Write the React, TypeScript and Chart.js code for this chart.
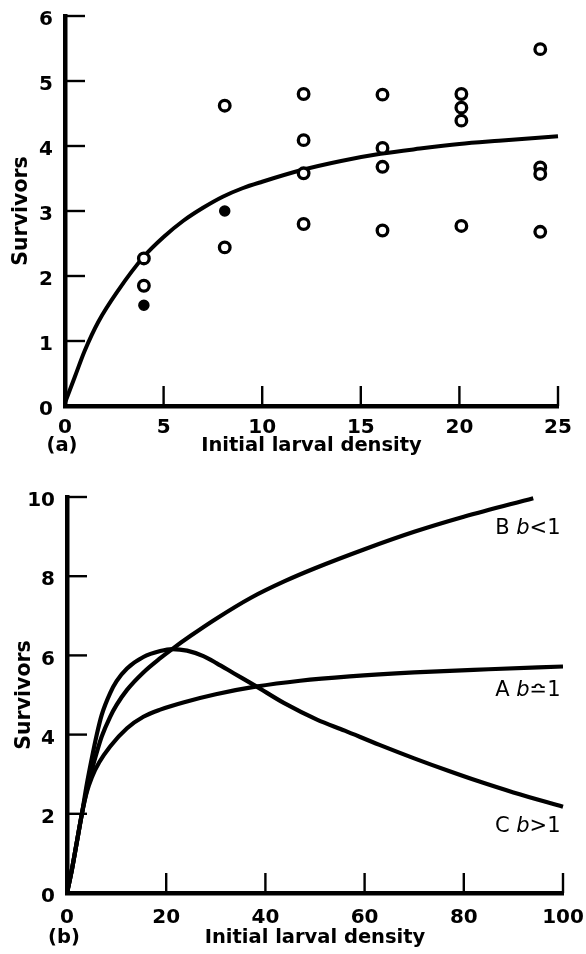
import React, { useEffect, useRef } from 'react';
import { Chart, registerables } from 'chart.js';

Chart.register(...registerables);

const FAMILY = "'DejaVu Sans', sans-serif";

// ---------- Panel (a): observed survivors ----------
const openX = [4, 4, 8.1, 8.1, 12.1, 12.1, 12.1, 12.1, 16.1, 16.1, 16.1, 16.1, 20.1, 20.1, 20.1, 20.1, 24.1, 24.1, 24.1, 24.1];
const openY = [2.27, 1.85, 4.62, 2.44, 4.8, 4.09, 3.58, 2.8, 4.79, 3.97, 3.68, 2.7, 4.8, 4.59, 4.39, 2.77, 5.49, 3.67, 3.57, 2.68];
const filledX = [4, 8.1];
const filledY = [1.55, 3.0];
const fitX = [0, 0.5, 1, 1.7, 2.7, 4, 5, 6, 7, 8, 9, 10, 12, 14, 16, 18, 20, 22, 25];
const fitY = [0.05, 0.45, 0.85, 1.3, 1.78, 2.3, 2.6, 2.85, 3.05, 3.22, 3.35, 3.45, 3.63, 3.77, 3.88, 3.96, 4.03, 4.08, 4.15];

// ---------- Panel (b): model curves ----------
const curveAX = [0, 1, 2, 3, 4, 5, 6.5, 8.7, 12.1, 15.4, 18.8, 24, 30, 38, 47, 57, 70, 85, 100];
const curveAY = [0, 0.6, 1.3, 2.0, 2.55, 2.92, 3.3, 3.7, 4.16, 4.45, 4.63, 4.83, 5.02, 5.21, 5.36, 5.47, 5.57, 5.65, 5.72];
const curveBX = [0, 1, 2, 3, 4, 5, 6, 7, 8.7, 10, 12.1, 15.4, 18.8, 21.2, 25, 30, 37, 44, 50, 60, 70, 80, 94];
const curveBY = [0, 0.6, 1.3, 2.0, 2.6, 3.1, 3.55, 3.95, 4.45, 4.75, 5.13, 5.57, 5.93, 6.16, 6.5, 6.92, 7.45, 7.88, 8.2, 8.68, 9.12, 9.5, 9.97];
const curveCX = [0, 1, 2, 3, 4, 5, 6, 7, 8.7, 10, 12.1, 15.4, 18.8, 21.2, 24.2, 27.5, 30.2, 33.6, 38, 43.7, 50.4, 56, 63, 70, 77, 83, 90, 100];
const curveCY = [0, 0.6, 1.3, 2.0, 2.75, 3.4, 4.0, 4.5, 5.05, 5.35, 5.67, 5.96, 6.11, 6.16, 6.12, 5.98, 5.8, 5.55, 5.23, 4.8, 4.38, 4.1, 3.74, 3.4, 3.08, 2.82, 2.54, 2.18];

const curveNames = ['B', 'A', 'C'];
const curveRelations = ['<1', '\u224F1', '>1'];
const curveLabelY = [9.2, 5.12, 1.69];
const curveLabelX = 99.5;

const pts = (xs: number[], ys: number[]) => xs.map((x, i) => ({ x, y: ys[i] }));

const decorPlugin = {
  id: 'decor',
  afterDraw(chart: any, _args: any, opts: any) {
    const { ctx, chartArea } = chart;
    const x = chart.scales.x;
    const y = chart.scales.y;
    ctx.save();
    ctx.strokeStyle = '#000';
    ctx.lineWidth = 2.4;
    ctx.lineCap = 'butt';
    x.ticks.forEach((t: any) => {
      if (t.value === 0) return;
      const px = x.getPixelForValue(t.value);
      ctx.beginPath();
      ctx.moveTo(px, chartArea.bottom);
      ctx.lineTo(px, chartArea.bottom - opts.tickLen);
      ctx.stroke();
    });
    y.ticks.forEach((t: any) => {
      if (t.value === 0) return;
      const py = y.getPixelForValue(t.value);
      ctx.beginPath();
      ctx.moveTo(chartArea.left, py);
      ctx.lineTo(chartArea.left + opts.tickLen, py);
      ctx.stroke();
    });
    // panel letter
    ctx.fillStyle = '#000';
    ctx.font = `bold ${opts.panelSize}px ${FAMILY}`;
    ctx.textAlign = 'center';
    ctx.textBaseline = 'middle';
    ctx.fillText(opts.panel, chartArea.left - 3, x.bottom - opts.panelOffset);

    // curve labels
    if (opts.labels) {
      const normal = `${opts.labelSize}px ${FAMILY}`;
      const italic = `italic ${opts.labelSize}px ${FAMILY}`;
      opts.labels.forEach((lab: any) => {
        const parts = [
          { t: lab.name + ' ', f: normal },
          { t: 'b', f: italic },
          { t: lab.rel, f: normal },
        ];
        let total = 0;
        parts.forEach((p) => {
          ctx.font = p.f;
          total += ctx.measureText(p.t).width;
        });
        let cx = x.getPixelForValue(lab.x) - total;
        const cy = y.getPixelForValue(lab.y);
        ctx.textAlign = 'left';
        parts.forEach((p) => {
          ctx.font = p.f;
          ctx.fillText(p.t, cx, cy);
          cx += ctx.measureText(p.t).width;
        });
      });
    }
    ctx.restore();
  },
};

const tickFont = { family: FAMILY, size: 20, weight: 'bold' as const };

function clearPad(s: any) {
  s.paddingLeft = 0;
  s.paddingRight = 0;
  s.paddingTop = 0;
  s.paddingBottom = 0;
}

function axes(o: any) {
  return {
    x: {
      type: 'linear',
      min: o.xMin,
      max: o.xMax,
      afterFit: (s: any) => {
        s.height = o.xHeight;
        clearPad(s);
      },
      ticks: { stepSize: o.xStep, color: '#000', font: tickFont, padding: o.xPad, maxRotation: 0, autoSkip: false },
      grid: { display: false, drawTicks: false },
      border: { display: true, color: '#000', width: 4.5 },
      title: {
        display: true,
        text: 'Initial larval density',
        color: '#000',
        font: { family: FAMILY, size: 19.5, weight: 'bold' },
        padding: { top: 0, bottom: o.xTitlePad },
      },
    },
    y: {
      type: 'linear',
      min: o.yMin,
      max: o.yMax,
      afterFit: (s: any) => {
        s.width = o.yWidth;
        clearPad(s);
      },
      ticks: { stepSize: o.yStep, color: '#000', font: tickFont, padding: 12, labelOffset: 4, autoSkip: false },
      grid: { display: false, drawTicks: false },
      border: { display: true, color: '#000', width: 4.5 },
      title: {
        display: true,
        text: 'Survivors',
        color: '#000',
        font: { family: FAMILY, size: 20.5, weight: 'bold' },
        padding: { top: o.yTitlePad, bottom: 0 },
      },
    },
  };
}

function makeTop(): any {
  return {
    type: 'scatter',
    data: {
      datasets: [
        {
          label: 'Observed (open)',
          data: pts(openX, openY),
          pointStyle: 'circle',
          pointRadius: 5.3,
          pointBorderWidth: 3.3,
          backgroundColor: '#fff',
          borderColor: '#000',
          pointBackgroundColor: '#fff',
          pointBorderColor: '#000',
          showLine: false,
          clip: false,
        },
        {
          label: 'Observed (filled)',
          data: pts(filledX, filledY),
          pointStyle: 'circle',
          pointRadius: 5,
          pointBorderWidth: 1.5,
          backgroundColor: '#000',
          borderColor: '#000',
          pointBackgroundColor: '#000',
          pointBorderColor: '#000',
          showLine: false,
          clip: false,
        },
        {
          type: 'line',
          label: 'Fitted',
          data: pts(fitX, fitY),
          borderColor: '#000',
          borderWidth: 4,
          pointRadius: 0,
          fill: false,
          cubicInterpolationMode: 'monotone',
          clip: false,
        },
      ],
    },
    options: {
      responsive: false,
      animation: false,
      events: [],
      layout: { padding: { top: 16, right: 28, left: 0, bottom: 0 } },
      plugins: {
        legend: { display: false },
        tooltip: { enabled: false },
        decor: { tickLen: 20, panel: '(a)', panelSize: 19.5, panelOffset: 24 },
      },
      scales: axes({
        xMin: 0, xMax: 25, xStep: 5, xHeight: 64, xPad: 10, xTitlePad: 12.6,
        yMin: 0, yMax: 6, yStep: 1, yWidth: 65, yTitlePad: 9.7,
      }),
    },
    plugins: [decorPlugin],
  };
}

function makeBottom(): any {
  const curves = [
    { label: 'A', xs: curveAX, ys: curveAY },
    { label: 'B', xs: curveBX, ys: curveBY },
    { label: 'C', xs: curveCX, ys: curveCY },
  ];
  return {
    type: 'line',
    data: {
      datasets: curves.map((c) => ({
        label: c.label,
        data: pts(c.xs, c.ys),
        borderColor: '#000',
        borderWidth: 4.2,
        pointRadius: 0,
        fill: false,
        cubicInterpolationMode: 'monotone',
        clip: false,
      })),
    },
    options: {
      responsive: false,
      animation: false,
      events: [],
      layout: { padding: { top: 27, right: 23, left: 0, bottom: 0 } },
      plugins: {
        legend: { display: false },
        tooltip: { enabled: false },
        decor: {
          tickLen: 20,
          panel: '(b)',
          panelSize: 19.5,
          panelOffset: 16,
          labelSize: 21,
          labels: curveNames.map((n, i) => ({ name: n, rel: curveRelations[i], x: curveLabelX, y: curveLabelY[i] })),
        },
      },
      scales: axes({
        xMin: 0, xMax: 100, xStep: 20, xHeight: 61, xPad: 13, xTitlePad: 4.6,
        yMin: 0, yMax: 10, yStep: 2, yWidth: 67, yTitlePad: 12.7,
      }),
    },
    plugins: [decorPlugin],
  };
}

function ChartCanvas({ make, width, height }: { make: () => any; width: number; height: number }) {
  const ref = useRef<HTMLCanvasElement | null>(null);
  useEffect(() => {
    if (!ref.current) return;
    const chart = new Chart(ref.current, make());
    return () => chart.destroy();
  }, []);
  return <canvas ref={ref} width={width} height={height} style={{ display: 'block', width, height }} />;
}

export default function App() {
  return (
    <div style={{ position: 'absolute', left: 0, top: 0, width: 586, height: 954, background: '#fff' }}>
      <ChartCanvas make={makeTop} width={586} height={470} />
      <ChartCanvas make={makeBottom} width={586} height={484} />
    </div>
  );
}
